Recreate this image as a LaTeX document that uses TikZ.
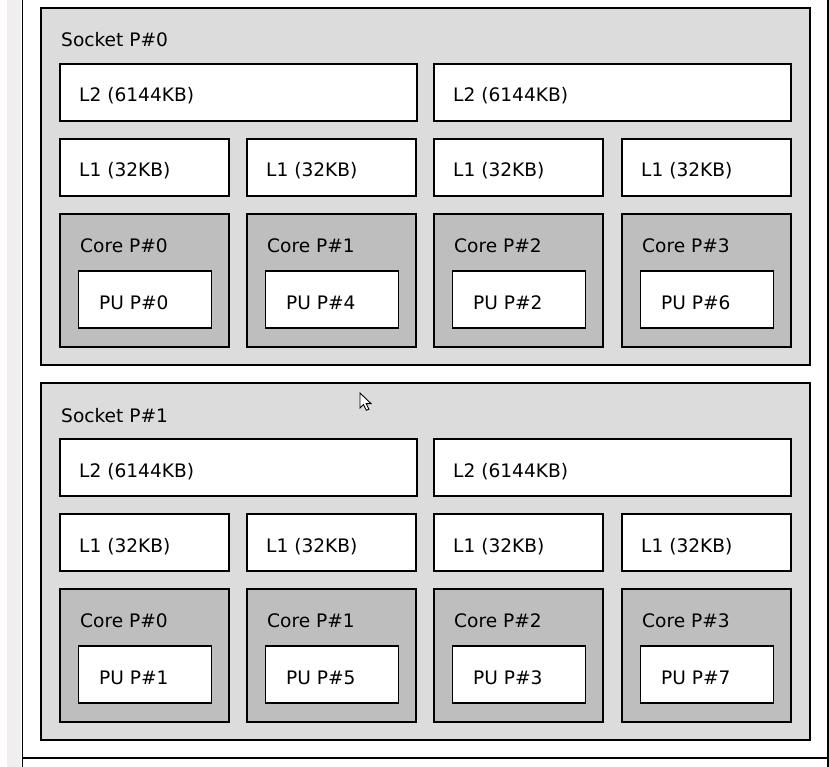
\documentclass[tikz,border=0pt]{standalone}
\usepackage{fontspec}
\setmainfont{DejaVu Sans}
\definecolor{sockgray}{HTML}{DCDCDC}
\definecolor{coregray}{HTML}{BEBEBE}
\definecolor{stripgray}{HTML}{F0EFEE}
\begin{document}
\begin{tikzpicture}[x=1pt,y=-1pt,
  frame/.style={draw=black, line width=1.4pt, anchor=north west, inner sep=0pt, outer sep=0pt},
  sockbox/.style={frame, fill=sockgray, minimum width=769pt, minimum height=357pt},
  l2box/.style={frame, fill=white, minimum width=357pt, minimum height=57pt},
  l1box/.style={frame, fill=white, minimum width=169pt, minimum height=57pt},
  corebox/.style={frame, fill=coregray, minimum width=169pt, minimum height=133pt},
  pubox/.style={frame, fill=white, minimum width=133pt, minimum height=57pt},
  lbl/.style={anchor=base west, inner sep=0pt, font=\fontsize{18.6}{22}\selectfont},
  rule/.style={draw=black, line width=1.5pt}]
\fill[white] (0,0) rectangle (829,767);
\useasboundingbox (0,0) rectangle (829,767);
\fill[stripgray] (7,0) rectangle (21,767);
\coordinate (lt) at (22.5,0);
\coordinate (lb) at (22.5,767);
\coordinate (bl) at (22.5,758);
\coordinate (br) at (829,758);
\coordinate (rt) at (828,0);
\coordinate (rb) at (828,767);
\draw[rule] (lt) -- (lb);
\draw[rule] (bl) -- (br);
\draw[rule] (rt) -- (rb);
\foreach \s/\dy in {0/0,1/375} {
  \node[sockbox] (sock\s) at (41,8+\dy) {};
  \node[lbl] (sock\s t) at (61,47+\dy) {Socket P\#\s};
  \foreach \j/\xx in {0/60,1/434} {
    \node[l2box] (l2\s\j) at (\xx,64+\dy) {};
    \node[lbl] (l2\s\j t) at (\xx+19,102+\dy) {L2 (6144KB)};
  }
  \foreach \c/\xx in {0/60,1/247,2/434,3/622} {
    \pgfmathtruncatemacro{\pu}{\s+4*mod(\c,2)+2*floor(\c/2)}
    \node[l1box] (l1\s\c) at (\xx,139+\dy) {};
    \node[lbl] (l1\s\c t) at (\xx+19,177+\dy) {L1 (32KB)};
    \node[corebox] (core\s\c) at (\xx,214+\dy) {};
    \node[lbl] (core\s\c t) at (\xx+20,252+\dy) {Core P\#\c};
    \node[pubox] (pu\s\c) at (\xx+18.5,271+\dy) {};
    \node[lbl] (pu\s\c t) at (\xx+39,309+\dy) {PU P\#\pu};
  }
}
\coordinate (cur) at (360,393);
\draw[fill=white, line width=0.9pt, line join=miter] (cur) -- ++(0,15) -- ++(3.5,-3.5) -- ++(2.8,5.8) -- ++(2.6,-1.1) -- ++(-2.7,-5.6) -- ++(4.8,0) -- cycle;
\end{tikzpicture}
\end{document}
